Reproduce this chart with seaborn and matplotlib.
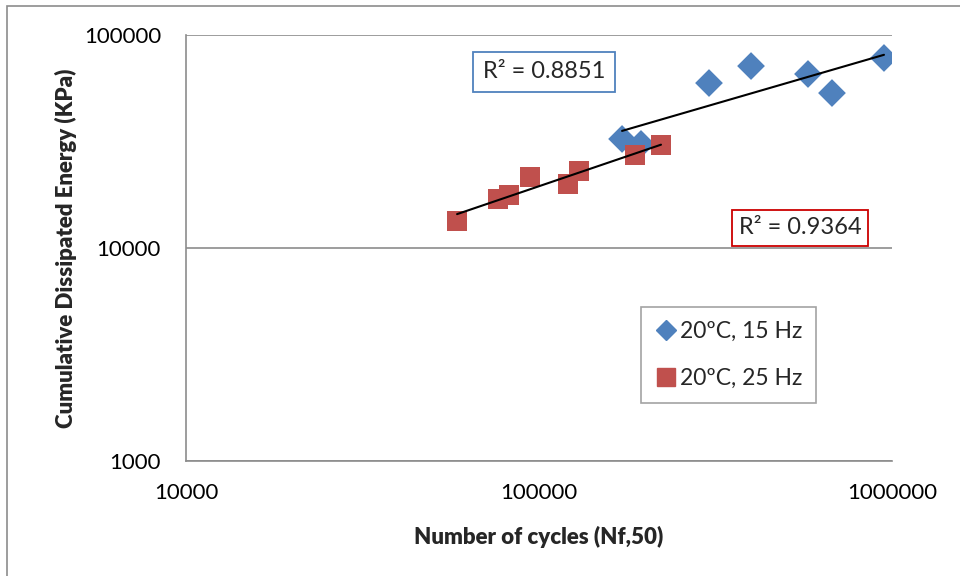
import numpy as np
import pandas as pd
import matplotlib
matplotlib.use("Agg")
import matplotlib.pyplot as plt
from matplotlib.lines import Line2D
from matplotlib.patches import Rectangle
import seaborn as sns

# Data
cycles_15hz = [171900, 194500, 303100, 398700, 578100, 676000, 949000]
energy_15hz = [32500, 30800, 59500, 71500, 65600, 53400, 78000]
cycles_25hz = [58600, 76500, 82200, 94300, 120800, 129800, 187000, 221600]
energy_25hz = [13400, 17000, 17700, 21500, 20000, 23000, 27300, 30400]
series_labels = ["20ºC, 15 Hz", "20ºC, 25 Hz"]
r2_labels = ["R² = 0.8851", "R² = 0.9364"]
x_ticks = [10000, 100000, 1000000]
y_ticks = [1000, 10000, 100000]

sns.set_theme(style="white")
plt.rcParams['font.family'] = ['Lato', 'DejaVu Sans']

df = pd.DataFrame({
    "x": cycles_15hz + cycles_25hz,
    "y": energy_15hz + energy_25hz,
    "s": [series_labels[0]] * len(cycles_15hz) + [series_labels[1]] * len(cycles_25hz),
})

blue = "#4F81BD"
red = "#C0504D"

fig = plt.figure(figsize=(9.6, 5.76), dpi=100)
ax = fig.add_axes([186/960, 1 - 461/576, (892-186)/960, (461-35)/576])

sns.scatterplot(data=df, x="x", y="y", hue="s", style="s",
                palette={series_labels[0]: blue, series_labels[1]: red},
                markers={series_labels[0]: "D", series_labels[1]: "s"},
                s=200, linewidth=0, ax=ax, legend=False, zorder=3)

# power trendlines
for xs, ys in [(cycles_15hz, energy_15hz), (cycles_25hz, energy_25hz)]:
    lx, ly = np.log10(xs), np.log10(ys)
    b, a = np.polyfit(lx, ly, 1)
    xx = np.array([min(xs), max(xs)])
    ax.plot(xx, 10 ** (a + b * np.log10(xx)), color="black", lw=1.5, zorder=4)

ax.set_xscale("log")
ax.set_yscale("log")
ax.set_xlim(x_ticks[0], x_ticks[-1])
ax.set_ylim(y_ticks[0], y_ticks[-1])
ax.set_xticks(x_ticks)
ax.set_yticks(y_ticks)
ax.set_xticklabels([str(v) for v in x_ticks])
ax.set_yticklabels([str(v) for v in y_ticks])
ax.minorticks_off()
ax.tick_params(axis="both", labelsize=16, colors="black", length=6,
               width=1.2, direction="out", pad=6)
ax.tick_params(axis="x", color="#8c8c8c", pad=10)
ax.tick_params(axis="y", color="#8c8c8c", pad=12)
ax.yaxis.grid(True, color="#8c8c8c", lw=1.2)
ax.xaxis.grid(False)
for sp in ["top", "right"]:
    ax.spines[sp].set_visible(False)
for sp in ["left", "bottom"]:
    ax.spines[sp].set_color("#8c8c8c")
    ax.spines[sp].set_linewidth(1.2)

ax.set_xlabel("Number of cycles (Nf,50)", fontsize=16, fontweight="heavy", labelpad=16)
ax.set_ylabel("Cumulative Dissipated Energy (KPa)", fontsize=16, fontweight="heavy", labelpad=5)

# R² boxes
fig.text(544/960, 1 - 72/576, r2_labels[0], ha="center", va="center", fontsize=17,
         bbox=dict(boxstyle="square,pad=0.4", fc="white", ec=blue, lw=1.3))
fig.text(800/960, 1 - 228/576, r2_labels[1], ha="center", va="center", fontsize=17,
         bbox=dict(boxstyle="square,pad=0.3", fc="white", ec="#CC0000", lw=1.3))

handles = [Line2D([], [], marker="D", color=blue, ls="none", markersize=10),
           Line2D([], [], marker="s", color=red, ls="none", markersize=13)]
leg = ax.legend(handles, series_labels, loc="upper left",
                bbox_to_anchor=((641-186)/706, (461-307)/426),
                fontsize=16.5, frameon=True, fancybox=False, edgecolor="#8c8c8c",
                handletextpad=0.1, handlelength=1.0, borderpad=0.6, labelspacing=1.15,
                borderaxespad=0)
leg.get_frame().set_linewidth(1.2)

# outer chart border (left and top visible)
fig.add_artist(Rectangle((7/960, -0.1), 1.2, 1 - 6/576 + 0.1, transform=fig.transFigure,
                         fill=False, ec="#8c8c8c", lw=1.2))

fig.savefig("out.png", dpi=100)
